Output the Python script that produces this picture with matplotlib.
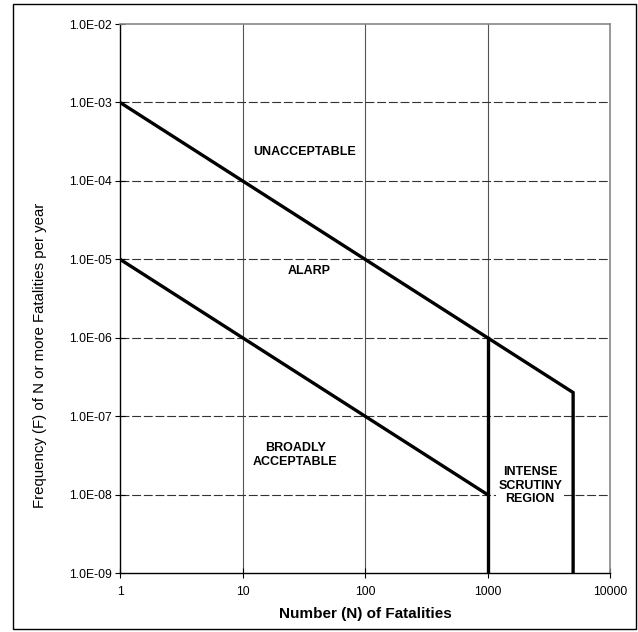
import numpy as np
import matplotlib.pyplot as plt
from matplotlib.patches import Rectangle
from matplotlib.ticker import FixedLocator, FixedFormatter, NullLocator

plt.rcParams['font.family'] = ['Liberation Sans', 'DejaVu Sans']

# F-N criterion lines
upper_n = [1, 5000, 5000]
upper_f = [1e-3, 2e-7, 1e-9]
lower_n = [1, 1000]
lower_f = [1e-5, 1e-8]
scrutiny_n = [1000, 1000]
scrutiny_f = [1e-6, 1e-9]

x_ticks = [1, 10, 100, 1000, 10000]
x_labels = ['1', '10', '100', '1000', '10000']
y_ticks = [1e-9, 1e-8, 1e-7, 1e-6, 1e-5, 1e-4, 1e-3, 1e-2]
y_labels = ['1.0E-09', '1.0E-08', '1.0E-07', '1.0E-06', '1.0E-05', '1.0E-04', '1.0E-03', '1.0E-02']

regions = ['UNACCEPTABLE', 'ALARP', 'BROADLY\nACCEPTABLE', 'INTENSE\nSCRUTINY\nREGION']
region_n = [32, 35, 27, 2230]
region_f = [2.3e-4, 7.0e-6, 3.2e-8, 1.3e-8]

fig = plt.figure(figsize=(6.38, 6.32), dpi=100)
ax = fig.add_axes([120/638, 59/632, 490/638, 549/632])

ax.set_xscale('log')
ax.set_yscale('log')
ax.set_xlim(1, 10000)
ax.set_ylim(1e-9, 1e-2)

ax.xaxis.set_major_locator(FixedLocator(x_ticks))
ax.xaxis.set_major_formatter(FixedFormatter(x_labels))
ax.xaxis.set_minor_locator(NullLocator())
ax.yaxis.set_major_locator(FixedLocator(y_ticks))
ax.yaxis.set_major_formatter(FixedFormatter(y_labels))
ax.yaxis.set_minor_locator(NullLocator())

# grid: solid verticals, dashed horizontals
for x in x_ticks[1:]:
    ax.axvline(x, color='#555555', lw=0.8, zorder=1)
for y in y_ticks[1:-1]:
    ax.axhline(y, color='#333333', lw=0.8, dashes=(8, 2.5), zorder=1)

ax.plot(upper_n, upper_f, color='black', lw=2.4, zorder=3, solid_joinstyle='miter')
ax.plot(lower_n, lower_f, color='black', lw=2.4, zorder=3)
ax.plot(scrutiny_n, scrutiny_f, color='black', lw=2.4, zorder=3)

for txt, n, f in zip(regions, region_n, region_f):
    ax.text(n, f, txt, ha='center', va='center', fontsize=9, fontweight='bold',
            linespacing=1.2, zorder=4,
            bbox=dict(facecolor='white', edgecolor='none', pad=1.5))

for s in ['top', 'right']:
    ax.spines[s].set_color('#888888')
    ax.spines[s].set_linewidth(1.2)
for s in ['left', 'bottom']:
    ax.spines[s].set_linewidth(1.0)

ax.tick_params(axis='both', which='major', direction='inout', length=7, width=0.8,
               labelsize=8.8, colors='black')
ax.tick_params(axis='x', pad=6)
ax.tick_params(axis='y', pad=2)

ax.set_xlabel('Number (N) of Fatalities', fontsize=11, fontweight='bold', labelpad=6)
fig.text(40/638, 1 - 355/632, 'Frequency (F) of N or more Fatalities per year',
         rotation=90, ha='center', va='center', fontsize=10.8)

fig.patches.append(Rectangle((13/638, 3/632), 623/638, 625/632, transform=fig.transFigure,
                             fill=False, edgecolor='black', lw=1.0))

fig.savefig('out.png', dpi=100)
